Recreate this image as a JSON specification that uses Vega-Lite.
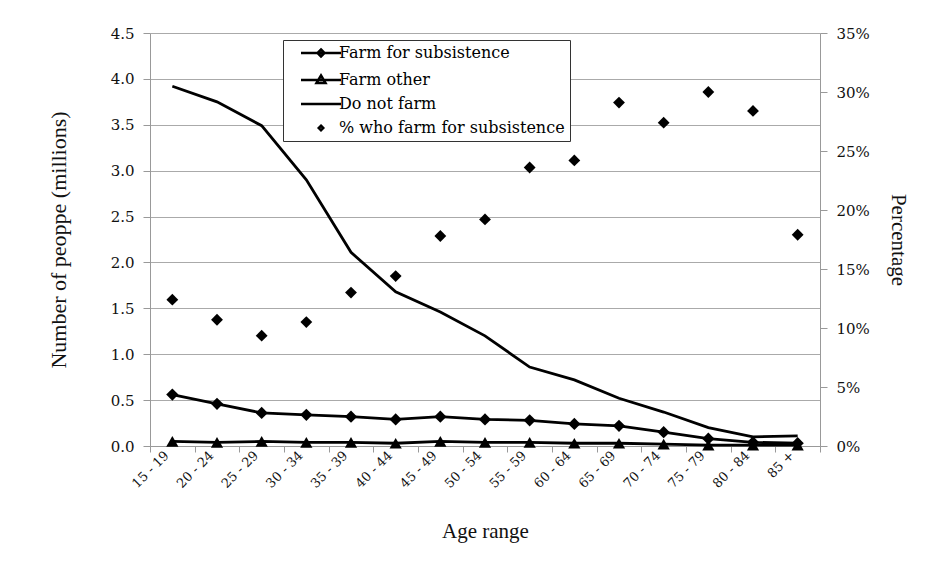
{
  "$schema": "https://vega.github.io/schema/vega-lite/v6.json",
  "width": 670,
  "height": 413,
  "autosize": {"type": "none"},
  "padding": {"left": 150, "top": 33, "right": 108, "bottom": 119},
  "background": "white",
  "config": {
    "view": {"stroke": null},
    "axis": {
      "labelFont": "DejaVu Serif",
      "labelFontSize": 15,
      "labelColor": "#111",
      "titleFont": "Liberation Serif",
      "titleFontSize": 21,
      "titleFontWeight": "normal",
      "titleColor": "#111",
      "domainColor": "#999",
      "tickColor": "#999",
      "gridColor": "#aaa"
    }
  },
  "datasets": {
    "counts": [
      {"age": "15 - 19", "series": "Farm for subsistence", "value": 0.56},
      {"age": "20 - 24", "series": "Farm for subsistence", "value": 0.46},
      {"age": "25 - 29", "series": "Farm for subsistence", "value": 0.36},
      {"age": "30 - 34", "series": "Farm for subsistence", "value": 0.34},
      {"age": "35 - 39", "series": "Farm for subsistence", "value": 0.32},
      {"age": "40 - 44", "series": "Farm for subsistence", "value": 0.29},
      {"age": "45 - 49", "series": "Farm for subsistence", "value": 0.32},
      {"age": "50 - 54", "series": "Farm for subsistence", "value": 0.29},
      {"age": "55 - 59", "series": "Farm for subsistence", "value": 0.28},
      {"age": "60 - 64", "series": "Farm for subsistence", "value": 0.24},
      {"age": "65 - 69", "series": "Farm for subsistence", "value": 0.22},
      {"age": "70 - 74", "series": "Farm for subsistence", "value": 0.15},
      {"age": "75 - 79", "series": "Farm for subsistence", "value": 0.08},
      {"age": "80 - 84", "series": "Farm for subsistence", "value": 0.04},
      {"age": "85 +", "series": "Farm for subsistence", "value": 0.03},
      {"age": "15 - 19", "series": "Farm other", "value": 0.05},
      {"age": "20 - 24", "series": "Farm other", "value": 0.04},
      {"age": "25 - 29", "series": "Farm other", "value": 0.05},
      {"age": "30 - 34", "series": "Farm other", "value": 0.04},
      {"age": "35 - 39", "series": "Farm other", "value": 0.04},
      {"age": "40 - 44", "series": "Farm other", "value": 0.03},
      {"age": "45 - 49", "series": "Farm other", "value": 0.05},
      {"age": "50 - 54", "series": "Farm other", "value": 0.04},
      {"age": "55 - 59", "series": "Farm other", "value": 0.04},
      {"age": "60 - 64", "series": "Farm other", "value": 0.03},
      {"age": "65 - 69", "series": "Farm other", "value": 0.03},
      {"age": "70 - 74", "series": "Farm other", "value": 0.02},
      {"age": "75 - 79", "series": "Farm other", "value": 0.01},
      {"age": "80 - 84", "series": "Farm other", "value": 0.01},
      {"age": "85 +", "series": "Farm other", "value": 0.01},
      {"age": "15 - 19", "series": "Do not farm", "value": 3.92},
      {"age": "20 - 24", "series": "Do not farm", "value": 3.75},
      {"age": "25 - 29", "series": "Do not farm", "value": 3.49},
      {"age": "30 - 34", "series": "Do not farm", "value": 2.90},
      {"age": "35 - 39", "series": "Do not farm", "value": 2.11},
      {"age": "40 - 44", "series": "Do not farm", "value": 1.68},
      {"age": "45 - 49", "series": "Do not farm", "value": 1.46},
      {"age": "50 - 54", "series": "Do not farm", "value": 1.20},
      {"age": "55 - 59", "series": "Do not farm", "value": 0.86},
      {"age": "60 - 64", "series": "Do not farm", "value": 0.72},
      {"age": "65 - 69", "series": "Do not farm", "value": 0.52},
      {"age": "70 - 74", "series": "Do not farm", "value": 0.37},
      {"age": "75 - 79", "series": "Do not farm", "value": 0.20},
      {"age": "80 - 84", "series": "Do not farm", "value": 0.10},
      {"age": "85 +", "series": "Do not farm", "value": 0.11}
    ],
    "pct": [
      {"age": "15 - 19", "pct": 0.124},
      {"age": "20 - 24", "pct": 0.107},
      {"age": "25 - 29", "pct": 0.0935},
      {"age": "30 - 34", "pct": 0.105},
      {"age": "35 - 39", "pct": 0.130},
      {"age": "40 - 44", "pct": 0.144},
      {"age": "45 - 49", "pct": 0.178},
      {"age": "50 - 54", "pct": 0.192},
      {"age": "55 - 59", "pct": 0.236},
      {"age": "60 - 64", "pct": 0.242},
      {"age": "65 - 69", "pct": 0.291},
      {"age": "70 - 74", "pct": 0.274},
      {"age": "75 - 79", "pct": 0.300},
      {"age": "80 - 84", "pct": 0.284},
      {"age": "85 +", "pct": 0.179}
    ]
  },
  "encoding": {
    "x": {
      "field": "age",
      "type": "nominal",
      "scale": {
        "domain": ["15 - 19","20 - 24","25 - 29","30 - 34","35 - 39","40 - 44","45 - 49","50 - 54","55 - 59","60 - 64","65 - 69","70 - 74","75 - 79","80 - 84","85 +"],
        "paddingInner": 0,
        "paddingOuter": 0
      },
      "axis": {
        "title": "Age range",
        "labelAngle": -45,
        "labelAlign": "right",
        "labelBaseline": "middle",
        "labelFontSize": 13,
        "labelPadding": 1,
        "labelOffset": -6,
        "tickBand": "extent",
        "tickSize": 6,
        "titlePadding": 30
      }
    }
  },
  "layer": [
    {
      "data": {"name": "counts"},
      "encoding": {
        "y": {
          "field": "value",
          "type": "quantitative",
          "scale": {"domain": [0, 4.5], "nice": false},
          "axis": {
            "title": "Number of peoppe (millions)",
            "titleFontSize": 22,
            "values": [0, 0.5, 1, 1.5, 2, 2.5, 3, 3.5, 4, 4.5],
            "format": ".1f",
            "grid": true,
            "tickSize": 7,
            "labelPadding": 9,
            "titlePadding": 40
          }
        }
      },
      "layer": [
        {
          "mark": {"type": "line", "color": "black", "strokeWidth": 2.8},
          "encoding": {"detail": {"field": "series"}}
        },
        {
          "transform": [{"filter": "datum.series === 'Farm for subsistence'"}],
          "mark": {"type": "point", "filled": true, "color": "black", "size": 150, "opacity": 1, "shape": "diamond"}
        },
        {
          "transform": [{"filter": "datum.series === 'Farm other'"}],
          "mark": {"type": "point", "filled": true, "color": "black", "size": 150, "opacity": 1, "shape": "triangle-up"}
        },
        {
          "mark": {"type": "point", "filled": false, "color": "black", "size": 100, "strokeWidth": 2.5},
          "encoding": {
            "opacity": {"value": 0},
            "shape": {
              "field": "series",
              "type": "nominal",
              "scale": {
                "domain": ["Farm for subsistence", "Farm other", "Do not farm", "% who farm for subsistence"],
                "range": ["M1,0H9M5,-0.7L5.7,0L5,0.7L4.3,0Z", "M1,0H9M5,-0.9L5.9,0.6L4.1,0.6Z", "M1,0H9", "M5,-0.45L5.45,0L5,0.45L4.55,0Z"]
              },
              "legend": {
                "orient": "none",
                "legendX": 133,
                "legendY": 7,
                "title": null,
                "fillColor": "white",
                "strokeColor": "#333",
                "padding": 5,
                "symbolSize": 100,
                "symbolFillColor": "black",
                "symbolStrokeColor": "black",
                "symbolStrokeWidth": 2.5,
                "symbolOpacity": 1,
                "labelOffset": 35,
                "labelLimit": 0,
                "rowPadding": 8,
                "labelFont": "DejaVu Serif",
                "labelFontSize": 16,
                "labelColor": "black"
              }
            }
          }
        }
      ]
    },
    {
      "data": {"name": "pct"},
      "mark": {"type": "point", "filled": true, "color": "black", "size": 140, "opacity": 1, "shape": "diamond"},
      "encoding": {
        "y": {
          "field": "pct",
          "type": "quantitative",
          "scale": {"domain": [0, 0.35], "nice": false},
          "axis": {
            "title": "Percentage",
            "orient": "right",
            "values": [0, 0.05, 0.1, 0.15, 0.2, 0.25, 0.3, 0.35],
            "format": ".0%",
            "grid": false,
            "tickSize": 7,
            "labelPadding": 9,
            "titlePadding": 18
          }
        }
      }
    }
  ],
  "resolve": {"scale": {"y": "independent"}}
}
